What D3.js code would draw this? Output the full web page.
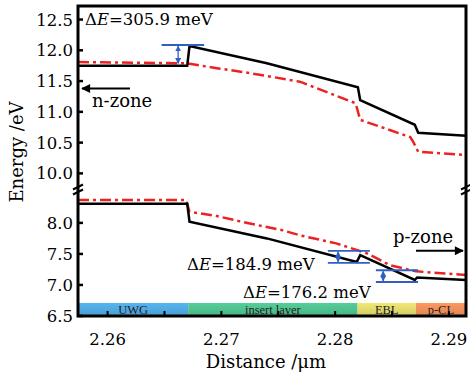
<!DOCTYPE html>
<html><head><meta charset="utf-8">
<script src="https://cdn.jsdelivr.net/npm/d3@7"></script>
<style>body{margin:0;background:#fff}svg{display:block}</style>
</head><body>
<script>
// ---- data ----
const xTicksMajor = [2.26, 2.27, 2.28, 2.29];
const xTicksAll = [2.26, 2.265, 2.27, 2.275, 2.28, 2.285, 2.29];
const yTicksTop = [10.0, 10.5, 11.0, 11.5, 12.0, 12.5];
const yTicksBottom = [6.5, 7.0, 7.5, 8.0];

const blackUpper = [[2.2574,11.75],[2.2670,11.75],[2.2672,12.07],[2.2740,11.79],[2.2820,11.40],[2.2822,11.19],[2.2870,10.79],[2.2873,10.66],[2.2915,10.61]];
const redUpper = [[2.2574,11.81],[2.2669,11.79],[2.2696,11.71],[2.2725,11.63],[2.2769,11.49],[2.2818,11.14],[2.2822,10.87],[2.2866,10.59],[2.2869,10.50],[2.2873,10.35],[2.2915,10.30]];
const blackLower = [[2.2574,8.31],[2.2670,8.31],[2.2672,8.02],[2.2740,7.75],[2.2819,7.37],[2.2822,7.48],[2.2870,7.08],[2.2872,7.12],[2.2915,7.08]];
const redLower = [[2.2574,8.37],[2.2669,8.37],[2.2672,8.18],[2.2696,8.11],[2.2725,7.99],[2.2754,7.88],[2.2769,7.80],[2.2801,7.67],[2.2828,7.51],[2.2848,7.32],[2.2871,7.22],[2.2915,7.16]];

const layers = ["UWG", "insert layer", "EBL", "p-CL"];
const layerBounds = [2.2574, 2.26708, 2.28197, 2.28709, 2.2915];
const layerColors = ["#4ea6dd", "#4dbd8c", "#dcd56a", "#ea8c59"];
const layerTop = 6.71;

// annotations: [x0, x1, xArrow, yTopBar, yBottomBar, label]
const deltaLabels = ["305.9", "184.9", "176.2"];
const deltaBars = [
  [2.26475, 2.26849, 2.2662, 12.086, 11.77, false],
  [2.27936, 2.28305, 2.28026, 7.55, 7.355, true],
  [2.28358, 2.28729, 2.28422, 7.237, 7.048, true]
];

// ---- scales ----
const W = 470, H = 372;
const L = 78, R = 466, T = 6, B = 316;
const x = d3.scaleLinear().domain([2.2574, 2.2915]).range([L, R]);
const y = d3.scaleLinear().domain([6.5, 8.53, 9.73, 12.72]).range([B, 190, 190, T]);

const svg = d3.select("body").append("svg").attr("width", W).attr("height", H);
const defs = svg.append("defs");
layerColors.forEach((c, i) => {
  const g = defs.append("linearGradient").attr("id", "g" + i).attr("x1", 0).attr("y1", 0).attr("x2", 0).attr("y2", 1);
  g.append("stop").attr("offset", "0%").attr("stop-color", d3.color(c).brighter(0.25));
  g.append("stop").attr("offset", "100%").attr("stop-color", d3.color(c).darker(0.15));
});
const blue = "#2f5fc4";
defs.append("marker").attr("id", "ah").attr("viewBox", "0 0 10 10").attr("refX", 9).attr("refY", 5)
  .attr("markerWidth", 6).attr("markerHeight", 6).attr("markerUnits", "userSpaceOnUse").attr("orient", "auto-start-reverse")
  .append("path").attr("d", "M0,0 L10,5 L0,10 Z").attr("fill", blue);
defs.append("marker").attr("id", "bh").attr("viewBox", "0 0 10 10").attr("refX", 9).attr("refY", 5)
  .attr("markerWidth", 11).attr("markerHeight", 9).attr("markerUnits", "userSpaceOnUse").attr("orient", "auto")
  .append("path").attr("d", "M0,0 L10,5 L0,10 Z").attr("fill", "#000");

// layer bands
layers.forEach((name, i) => {
  svg.append("rect").attr("x", x(layerBounds[i])).attr("y", y(layerTop))
    .attr("width", x(layerBounds[i + 1]) - x(layerBounds[i])).attr("height", y(6.5) - y(layerTop))
    .attr("fill", `url(#g${i})`);
  svg.append("text").attr("x", (x(layerBounds[i]) + x(layerBounds[i + 1])) / 2).attr("y", (y(layerTop) + y(6.5)) / 2 + 4.5)
    .attr("text-anchor", "middle").attr("font-family", "Liberation Serif").attr("font-size", 12.5)
    .attr("fill", "#222").text(name);
});

// curves
const line = d3.line().x(d => x(d[0])).y(d => y(d[1]));
[[redUpper, true], [redLower, true], [blackUpper, false], [blackLower, false]].forEach(([d, red]) => {
  svg.append("path").attr("d", line(d)).attr("fill", "none")
    .attr("stroke", red ? "#ec2222" : "#000").attr("stroke-width", 2.5)
    .attr("stroke-dasharray", red ? "11,4,3,4" : null).attr("stroke-linejoin", "miter");
});

// delta annotations
deltaBars.forEach(([x0, x1, xa, yt, yb, both]) => {
  svg.append("line").attr("x1", x(x0)).attr("x2", x(x1)).attr("y1", y(yt)).attr("y2", y(yt)).attr("stroke", blue).attr("stroke-width", 1.8);
  if (both) svg.append("line").attr("x1", x(x0)).attr("x2", x(x1)).attr("y1", y(yb)).attr("y2", y(yb)).attr("stroke", blue).attr("stroke-width", 1.8);
  svg.append("line").attr("x1", x(xa)).attr("x2", x(xa)).attr("y1", y(yt) + 1).attr("y2", y(yb) - 1)
    .attr("stroke", blue).attr("stroke-width", 1.3).attr("marker-start", "url(#ah)").attr("marker-end", "url(#ah)");
});

function deltaText(px, py, val) {
  const t = svg.append("text").attr("x", px).attr("y", py).attr("font-family", "DejaVu Serif").attr("font-size", 16.5).attr("fill", "#000");
  t.append("tspan").text("Δ");
  t.append("tspan").attr("font-style", "italic").text("E");
  t.append("tspan").text("=" + val + " meV");
}
deltaText(85, 25, deltaLabels[0]);
deltaText(187, 270, deltaLabels[1]);
deltaText(243, 298, deltaLabels[2]);

// zone labels & arrows
svg.append("line").attr("x1", 130).attr("x2", 82).attr("y1", 88.5).attr("y2", 88.5).attr("stroke", "#000").attr("stroke-width", 2).attr("marker-end", "url(#bh)");
svg.append("text").attr("x", 92).attr("y", 107).attr("font-family", "DejaVu Serif").attr("font-size", 18).text("n-zone");
svg.append("line").attr("x1", 416).attr("x2", 463).attr("y1", 250.7).attr("y2", 250.7).attr("stroke", "#000").attr("stroke-width", 2).attr("marker-end", "url(#bh)");
svg.append("text").attr("x", 393).attr("y", 243).attr("font-family", "DejaVu Serif").attr("font-size", 18).text("p-zone");

// frame
svg.append("rect").attr("x", L).attr("y", T).attr("width", R - L).attr("height", B - T).attr("fill", "none").attr("stroke", "#000").attr("stroke-width", 3);

// ticks
xTicksAll.forEach(v => {
  svg.append("line").attr("x1", x(v)).attr("x2", x(v)).attr("y1", B).attr("y2", B - 5).attr("stroke", "#000").attr("stroke-width", 2);
});
xTicksMajor.forEach(v => {
  svg.append("text").attr("x", x(v)).attr("y", 345).attr("text-anchor", "middle").attr("font-family", "DejaVu Serif").attr("font-size", 16.5).text(v.toFixed(2));
});
yTicksTop.concat(yTicksBottom).forEach(v => {
  svg.append("line").attr("x1", L).attr("x2", L + 5).attr("y1", y(v)).attr("y2", y(v)).attr("stroke", "#000").attr("stroke-width", 2.5);
  svg.append("text").attr("x", 73).attr("y", y(v) + 6).attr("text-anchor", "end").attr("font-family", "DejaVu Serif").attr("font-size", 16.5).text(v.toFixed(1));
});

// break marks
[L, R].forEach(px => {
  [187, 192].forEach(py => {
    svg.append("line").attr("x1", px - 5).attr("x2", px + 5).attr("y1", py + 2.5).attr("y2", py - 2.5).attr("stroke", "#000").attr("stroke-width", 2);
  });
});

// axis titles
svg.append("text").attr("x", 266).attr("y", 368).attr("text-anchor", "middle").attr("font-family", "DejaVu Serif").attr("font-size", 18).text("Distance /μm");
svg.append("text").attr("transform", "translate(23,152) rotate(-90)").attr("text-anchor", "middle").attr("font-family", "DejaVu Serif").attr("font-size", 18).text("Energy /eV");
</script>
</body></html>
